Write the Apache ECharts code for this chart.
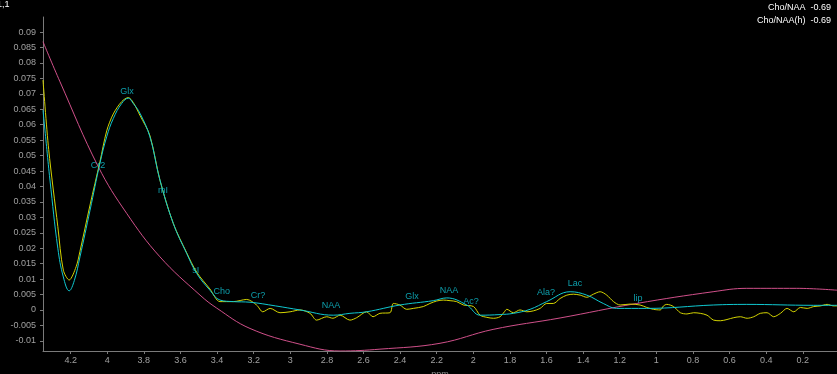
<!DOCTYPE html>
<html>
<head>
<meta charset="utf-8">
<script src="https://cdn.jsdelivr.net/npm/echarts@6/dist/echarts.min.js"></script>
<style>
  html, body { margin: 0; padding: 0; background: #000; }
  #chart { width: 837px; height: 374px; }
</style>
</head>
<body>
<div id="chart"></div>
<script>
// 軸刻度
const xTicks = [4.2, 4, 3.8, 3.6, 3.4, 3.2, 3, 2.8, 2.6, 2.4, 2.2, 2, 1.8, 1.6, 1.4, 1.2, 1, 0.8, 0.6, 0.4, 0.2];
const yTicks = [-0.01, -0.005, 0, 0.005, 0.01, 0.015, 0.02, 0.025, 0.03, 0.035, 0.04, 0.045, 0.05, 0.055, 0.06, 0.065, 0.07, 0.075, 0.08, 0.085, 0.09];

// 擬合曲線 (cyan)
const fitPpm = [4.351, 4.33, 4.313, 4.27, 4.24, 4.208, 4.18, 4.149, 4.094, 4.04, 4.003, 3.967, 3.921, 3.885, 3.858, 3.821, 3.767, 3.712, 3.639, 3.566, 3.511, 3.439, 3.384, 3.311, 3.22, 3.08, 2.947, 2.765, 2.674, 2.583, 2.401, 2.219, 2.145, 2.036, 1.963, 1.854, 1.781, 1.69, 1.599, 1.471, 1.38, 1.29, 1.217, 1.053, 0.689, 0.506, 0.142, 0.013];
const fitVal = [0.0647, 0.052, 0.0421, 0.020, 0.0107, 0.0062, 0.0095, 0.0172, 0.0323, 0.0475, 0.0561, 0.0620, 0.0669, 0.0686, 0.0669, 0.0637, 0.0561, 0.0421, 0.0280, 0.0183, 0.0118, 0.0064, 0.0032, 0.0027, 0.0025, 0.0013, 0.0000, -0.0017, -0.0011, -0.0006, 0.0016, 0.0030, 0.0039, 0.0016, -0.0017, -0.0015, -0.0011, 0.0002, 0.0027, 0.0059, 0.0048, 0.0021, 0.0005, 0.0005, 0.0016, 0.0018, 0.0015, 0.0015];

// 原始資料 (yellow)
const dataPpm = [4.351, 4.32, 4.27, 4.24, 4.208, 4.17, 4.149, 4.094, 4.04, 4.003, 3.967, 3.921, 3.885, 3.858, 3.821, 3.767, 3.712, 3.639, 3.566, 3.511, 3.439, 3.384, 3.311, 3.238, 3.184, 3.15, 3.11, 3.056, 3.001, 2.947, 2.892, 2.856, 2.801, 2.767, 2.728, 2.674, 2.637, 2.583, 2.548, 2.51, 2.455, 2.437, 2.401, 2.364, 2.328, 2.273, 2.237, 2.2, 2.164, 2.127, 2.091, 2.054, 1.999, 1.963, 1.926, 1.89, 1.854, 1.83, 1.817, 1.781, 1.745, 1.708, 1.672, 1.635, 1.599, 1.563, 1.526, 1.489, 1.453, 1.416, 1.38, 1.344, 1.307, 1.271, 1.234, 1.198, 1.143, 1.089, 1.052, 1.016, 0.979, 0.961, 0.943, 0.906, 0.869, 0.833, 0.796, 0.76, 0.723, 0.687, 0.65, 0.614, 0.577, 0.541, 0.504, 0.468, 0.432, 0.395, 0.359, 0.322, 0.286, 0.249, 0.213, 0.176, 0.14, 0.104, 0.067, 0.031, 0.013];
const dataVal = [0.0745, 0.052, 0.027, 0.0129, 0.0097, 0.014, 0.019, 0.034, 0.048, 0.058, 0.0635, 0.0675, 0.0688, 0.0672, 0.0630, 0.0565, 0.0420, 0.0280, 0.0185, 0.0122, 0.0068, 0.0027, 0.0027, 0.0034, 0.0016, -0.0006, 0.0005, -0.0009, -0.0006, 0.0, -0.0011, -0.0033, -0.0022, -0.0027, -0.0017, -0.0033, -0.0025, -0.0006, -0.0022, -0.0011, -0.0009, 0.0021, 0.0016, 0.0002, 0.0005, 0.0011, 0.0021, 0.0029, 0.0032, 0.0030, 0.0027, 0.0016, 0.0011, -0.0017, -0.0024, -0.0027, -0.0022, -0.0006, 0.0002, -0.0009, 0.0, -0.0006, -0.0003, 0.0005, 0.0021, 0.0021, 0.0037, 0.0048, 0.0051, 0.0048, 0.0041, 0.0051, 0.0059, 0.0048, 0.0027, 0.0016, 0.0019, 0.0016, 0.0008, 0.0002, 0.0, 0.0013, 0.0018, 0.0011, -0.0009, -0.0013, -0.0009, -0.0011, -0.0017, -0.0033, -0.0035, -0.0031, -0.0025, -0.0022, -0.0027, -0.0022, -0.0011, -0.0009, -0.0022, -0.0011, 0.0005, -0.0006, 0.0008, 0.0005, 0.0011, 0.0013, 0.0018, 0.0013, 0.0013];

// 基線 (pink)
const basePpm = [4.351, 4.258, 4.049, 3.894, 3.712, 3.493, 3.402, 3.22, 2.947, 2.728, 2.51, 2.182, 1.892, 1.526, 1.107, 0.69, 0.506, 0.233, 0.013];
const baseVal = [0.0869, 0.0739, 0.0464, 0.0313, 0.0172, 0.0048, 0.0006, -0.0060, -0.0111, -0.0133, -0.0127, -0.0108, -0.0063, -0.0026, 0.0021, 0.0059, 0.0070, 0.0070, 0.0064];

// 峰值標籤
const peakNames = ["Cr2", "Glx", "mI", "sI", "Cho", "Cr?", "NAA", "Glx", "NAA", "Ac?", "Ala?", "Lac", "lip"];
const peakPpm = [4.05, 3.892, 3.696, 3.516, 3.374, 3.177, 2.778, 2.335, 2.133, 2.013, 1.603, 1.445, 1.1];
const peakVal = [0.0469, 0.0709, 0.0388, 0.0129, 0.0061, 0.0048, 0.0013, 0.0045, 0.0064, 0.0026, 0.0055, 0.0084, 0.0036];

const zip = (a, b) => a.map((v, i) => [v, b[i]]);
const font = "'Liberation Sans', Arial, sans-serif";

const chart = echarts.init(document.getElementById("chart"));
chart.setOption({
  backgroundColor: "#000",
  animation: false,
  grid: { left: 43, right: 0, top: 17, bottom: 23, outerBoundsMode: "none", containLabel: false },
  xAxis: {
    type: "value",
    inverse: true,
    min: 0.013,
    max: 4.351,
    name: "ppm",
    nameLocation: "middle",
    nameGap: 17,
    nameTextStyle: { color: "#8a8a8a", fontSize: 9, fontFamily: font },
    axisLine: { onZero: false, lineStyle: { color: "#7a7a7a", width: 1 } },
    axisTick: { length: 3, lineStyle: { color: "#7a7a7a" }, customValues: xTicks },
    axisLabel: {
      color: "#a0a0a0", fontSize: 9, fontFamily: font, margin: 5,
      customValues: xTicks,
      formatter: v => String(+v.toFixed(1))
    },
    splitLine: { show: false }
  },
  yAxis: {
    type: "value",
    min: -0.0133,
    max: 0.0949,
    name: "Real",
    nameLocation: "middle",
    nameGap: 33,
    nameTextStyle: { color: "#8a8a8a", fontSize: 9, fontFamily: font },
    axisLine: { show: true, onZero: false, lineStyle: { color: "#7a7a7a", width: 1 } },
    axisTick: { show: true, length: 3, lineStyle: { color: "#7a7a7a" }, customValues: yTicks },
    axisLabel: {
      color: "#a0a0a0", fontSize: 9, fontFamily: font, margin: 7,
      customValues: yTicks,
      formatter: v => String(+v.toFixed(3))
    },
    splitLine: { show: false }
  },
  graphic: [
    { type: "text", left: -3, top: 0, style: { text: "1,1", fill: "#fff", font: "9px " + font } },
    { type: "text", right: 6, top: 3, style: { text: "Cho/NAA  -0.69", fill: "#fff", font: "9px " + font } },
    { type: "text", right: 6, top: 16, style: { text: "Cho/NAA(h)  -0.69", fill: "#fff", font: "9px " + font } }
  ],
  series: [
    {
      name: "baseline", type: "line", data: zip(basePpm, baseVal),
      smooth: 0.4, showSymbol: false, lineStyle: { color: "#d0508a", width: 1 }
    },
    {
      name: "data", type: "line", data: zip(dataPpm, dataVal),
      smooth: 0.3, showSymbol: false, lineStyle: { color: "#d4d400", width: 1 }
    },
    {
      name: "fit", type: "line", data: zip(fitPpm, fitVal),
      smooth: 0.4, showSymbol: false, lineStyle: { color: "#10c8d0", width: 1 }
    },
    {
      name: "peaks", type: "scatter", symbolSize: 0,
      data: peakNames.map((n, i) => ({ name: n, value: [peakPpm[i], peakVal[i]] })),
      label: {
        show: true, position: "inside", formatter: p => p.name,
        color: "#10c4d4", fontSize: 9, fontFamily: font
      }
    }
  ]
});
</script>
</body>
</html>
